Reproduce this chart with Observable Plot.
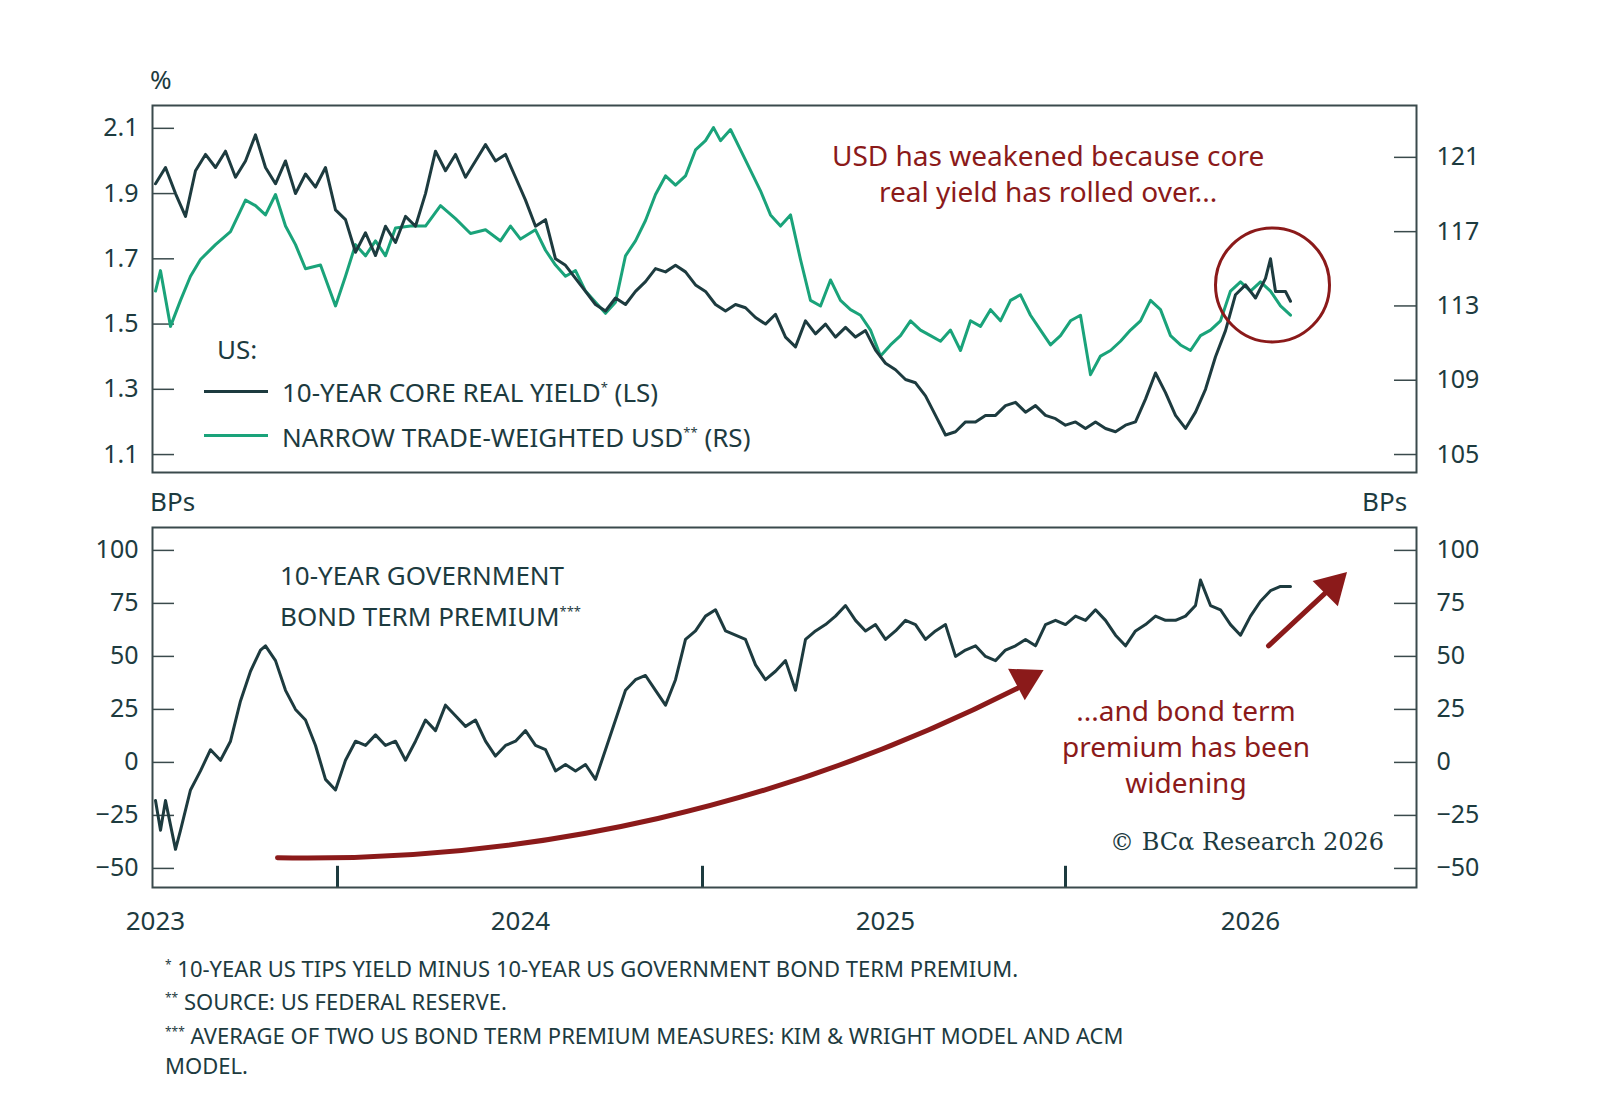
<!DOCTYPE html>
<html><head><meta charset="utf-8">
<script src="https://cdn.jsdelivr.net/npm/d3@7"></script>
<script src="https://cdn.jsdelivr.net/npm/@observablehq/plot@0.6"></script>
<style>
body{margin:0;background:#fff;font-family:"Noto Sans",sans-serif;}
#wrap{position:relative;width:1600px;height:1107px;}
#wrap svg{position:absolute;left:0;top:0;}
.t{position:absolute;color:#1d3b3f;font-size:26px;white-space:nowrap;line-height:1.35}
.r{color:#8b1a1a;text-align:center}
.fn{position:absolute;left:165px;top:950px;font-size:22px;color:#1d3b3f;line-height:30px}
</style></head><body><div id="wrap"></div>
<script>
// day offsets from 2023-01-01
const ryDays=[0,10,20,30,40,50,60,70,80,90,100,110,120,130,140,150,160,170,180,190,200,210,220,230,240,250,260,270,280,290,300,310,320,330,340,350,360,370,380,390,400,410,420,430,440,450,460,470,480,490,500,510,520,530,540,550,560,570,580,590,600,610,620,630,640,650,660,670,680,690,700,710,720,730,740,750,760,770,780,790,800,810,820,830,840,850,860,870,880,890,900,910,920,930,940,950,960,970,980,990,1000,1010,1020,1030,1040,1050,1060,1070,1080,1090,1100,1110,1115,1120,1130,1135];
const realYield=[1.93,1.98,1.90,1.83,1.97,2.02,1.98,2.03,1.95,2.0,2.08,1.98,1.93,2.0,1.90,1.96,1.92,1.98,1.85,1.82,1.72,1.78,1.71,1.80,1.75,1.83,1.80,1.90,2.03,1.97,2.02,1.95,2.00,2.05,2.00,2.02,1.95,1.88,1.80,1.82,1.70,1.68,1.64,1.60,1.56,1.54,1.58,1.56,1.60,1.63,1.67,1.66,1.68,1.66,1.62,1.60,1.56,1.54,1.56,1.55,1.52,1.50,1.53,1.46,1.43,1.51,1.47,1.50,1.46,1.49,1.46,1.48,1.42,1.38,1.36,1.33,1.32,1.28,1.22,1.16,1.17,1.20,1.20,1.22,1.22,1.25,1.26,1.23,1.25,1.22,1.21,1.19,1.20,1.18,1.20,1.18,1.17,1.19,1.20,1.27,1.35,1.29,1.22,1.18,1.23,1.30,1.40,1.48,1.59,1.62,1.58,1.64,1.70,1.60,1.60,1.57];
const usdDays=[0,5,15,25,35,45,60,75,90,100,110,120,130,140,150,165,180,190,200,210,220,230,240,255,270,285,300,315,330,345,355,365,380,390,400,410,420,430,440,450,460,470,480,490,500,510,520,530,540,550,558,565,575,585,595,605,615,625,635,645,655,665,675,685,695,705,715,725,735,745,755,765,775,785,795,805,815,825,835,845,855,865,875,885,895,905,915,925,935,945,955,965,975,985,995,1005,1015,1025,1035,1045,1055,1065,1075,1085,1095,1105,1115,1125,1135];
const usd=[113.8,114.9,111.9,113.3,114.6,115.5,116.3,117,118.7,118.4,117.9,119,117.3,116.3,115,115.2,113,114.6,116.3,115.7,116.5,115.7,117.2,117.3,117.3,118.4,117.7,116.9,117.1,116.5,117.3,116.6,117.1,116,115.2,114.6,114.9,113.8,113.2,112.6,113.2,115.7,116.5,117.6,119,120,119.5,120,121.4,121.9,122.6,121.9,122.5,121.4,120.3,119.2,117.9,117.3,117.9,115.5,113.3,113,114.4,113.3,112.8,112.5,111.7,110.3,110.9,111.4,112.2,111.7,111.4,111.1,111.7,110.6,112.2,111.9,112.8,112.2,113.3,113.6,112.5,111.7,110.9,111.4,112.2,112.5,109.3,110.3,110.6,111.1,111.7,112.2,113.3,112.8,111.4,110.9,110.6,111.4,111.7,112.2,113.8,114.3,113.8,114.3,113.8,113,112.5];
const tpDays=[0,5,10,20,25,35,45,55,65,75,85,95,105,110,120,130,140,150,160,170,180,190,200,210,220,230,240,250,260,270,280,290,300,310,320,330,340,350,360,370,380,390,400,410,420,430,440,450,460,470,480,490,500,510,520,530,540,550,560,570,580,590,600,610,620,630,640,650,660,670,680,690,700,710,720,730,740,750,760,770,780,790,800,810,820,830,840,850,860,870,880,890,900,910,920,930,940,950,960,970,980,990,1000,1010,1020,1030,1040,1045,1055,1065,1075,1085,1095,1105,1115,1125,1135];
const termPremium=[-18,-32,-18,-41,-32,-13,-4,6,1,10,29,43,53,55,48,34,25,20,8,-8,-13,1,10,8,13,8,10,1,10,20,15,27,22,17,20,10,3,8,10,15,8,6,-4,-1,-4,-1,-8,6,20,34,39,41,34,27,39,58,62,69,72,62,60,58,46,39,43,48,34,58,62,65,69,74,67,62,65,58,62,67,65,58,62,65,50,53,55,50,48,53,55,58,55,65,67,65,69,67,72,67,60,55,62,65,69,67,67,69,74,86,74,72,65,60,69,76,81,83,83];
const yearTicks=[0,365,730,1095], yearLabels=["2023","2024","2025","2026"];
const leftTicks=[1.1,1.3,1.5,1.7,1.9,2.1], rightTicks=[105,109,113,117,121];
const tpTicks=[-50,-25,0,25,50,75,100];

const dark="#1d3b3f", green="#1aa37a", red="#8b1a1a", frame="#3a4a4c";
const r2l = v => 2.1 - ((157 + (121 - v) * 18.56) - 128) / 326;
const xDom=[-3,1261];
const fs="25px";
const pairs=(ds,vs,f=v=>v)=>ds.map((d,i)=>({d,v:vs[i]==null?null:f(vs[i])})).filter(o=>o.v!=null);
const common={width:1600,marginLeft:152,marginRight:184,x:{domain:xDom,axis:null},style:{fontFamily:"Noto Sans",fontSize:fs,color:dark,background:"transparent"}};

const topPlot=Plot.plot({...common,height:1107,marginTop:105,marginBottom:635,
  y:{domain:[1.045,2.17],axis:null},
  marks:[
    Plot.axisY(leftTicks,{anchor:"left",label:null,tickSize:0,tickPadding:14,tickFormat:d3.format(".1f")}),
    Plot.axisY(rightTicks.map(r2l),{anchor:"right",label:null,tickSize:0,tickPadding:20,tickFormat:(d,i)=>rightTicks[i]}),
    Plot.ruleY(leftTicks,{x1:-3,x2:19,stroke:frame,strokeWidth:1.5}),
    Plot.ruleY(rightTicks.map(r2l),{x1:1239,x2:1261,stroke:frame,strokeWidth:1.5}),
    Plot.line(pairs(usdDays,usd,r2l),{x:"d",y:"v",stroke:green,strokeWidth:3}),
    Plot.line(pairs(ryDays,realYield),{x:"d",y:"v",stroke:dark,strokeWidth:3}),
    Plot.dot([{d:1117,v:1.62}],{x:"d",y:"v",r:57,stroke:red,strokeWidth:3}),
    Plot.frame({stroke:frame,strokeWidth:2})
  ]});
const botPlot=Plot.plot({...common,height:1107,marginTop:527,marginBottom:220,
  y:{domain:[-59,110.8],axis:null},
  marks:[
    Plot.axisY(tpTicks,{anchor:"left",label:null,tickSize:0,tickPadding:14}),
    Plot.axisY(tpTicks,{anchor:"right",label:null,tickSize:0,tickPadding:20}),
    Plot.axisX(yearTicks,{anchor:"bottom",label:null,tickSize:0,tickPadding:24,fontSize:"26px",tickFormat:(d,i)=>yearLabels[i]}),
    Plot.ruleY(tpTicks,{x1:-3,x2:19,stroke:frame,strokeWidth:1.5}),
    Plot.ruleY(tpTicks,{x1:1239,x2:1261,stroke:frame,strokeWidth:1.5}),
    Plot.ruleX([182,547,910],{y1:-59,y2:-49,stroke:dark,strokeWidth:3}),
    Plot.line(pairs(tpDays,termPremium),{x:"d",y:"v",stroke:dark,strokeWidth:3}),
    Plot.arrow([{x1:122,y1:-45,x2:862,y2:35}],{x1:"x1",y1:"y1",x2:"x2",y2:"y2",bend:-14,stroke:red,strokeWidth:5,headLength:0}),
    Plot.arrow([{x1:1113,y1:55,x2:1170,y2:80}],{x1:"x1",y1:"y1",x2:"x2",y2:"y2",stroke:red,strokeWidth:5,headLength:0}),
    Plot.dot([{x:870,y:39,a:62},{x:1177,y:83,a:45}],{x:"x",y:"y",rotate:"a",symbol:"triangle2",r:17,fill:red}),
    Plot.frame({stroke:frame,strokeWidth:2})
  ]});
const w=document.getElementById("wrap");
w.append(topPlot,botPlot);
const add=(html,cls,l,t,extra="")=>{const e=document.createElement("div");e.className="t "+cls;e.style.left=l+"px";e.style.top=t+"px";e.style.cssText+=extra;e.innerHTML=html;w.append(e);return e;};
add("%","",150,62);
add("BPs","",150,484);
add("BPs","",1362,484);
add("US:","",217,332);
add("10-YEAR CORE REAL YIELD<sup style='font-size:13px'>*</sup> (LS)","",282,375);
add("NARROW TRADE-WEIGHTED USD<sup style='font-size:13px'>**</sup>&nbsp;(RS)","",282,420);
add("","",204,390,"width:64px;height:0;border-top:3px solid "+dark);
add("","",204,434,"width:64px;height:0;border-top:3px solid "+green);
add("USD has weakened because core<br>real yield has rolled over...","r",832,137,"font-size:28px;line-height:36px");
add("10-YEAR GOVERNMENT<br>BOND TERM PREMIUM<sup style='font-size:13px'>***</sup>","",280,557,"line-height:36px");
add("...and bond term<br>premium has been<br>widening","r",1062,692,"font-size:28px;line-height:36px");
add("© BCα Research 2026","",1110,826,"font-family:'DejaVu Serif',serif;font-size:24px");
const fn=document.createElement("div");fn.className="fn";
fn.innerHTML="<sup style='font-size:12px'>*</sup> 10-YEAR US TIPS YIELD MINUS 10-YEAR US GOVERNMENT BOND TERM PREMIUM.<br><sup style='font-size:12px'>**</sup> SOURCE: US FEDERAL RESERVE.<br><sup style='font-size:12px'>***</sup> AVERAGE OF TWO US BOND TERM PREMIUM MEASURES: KIM &amp; WRIGHT MODEL AND ACM<br>MODEL.";
w.append(fn);
</script></body></html>
